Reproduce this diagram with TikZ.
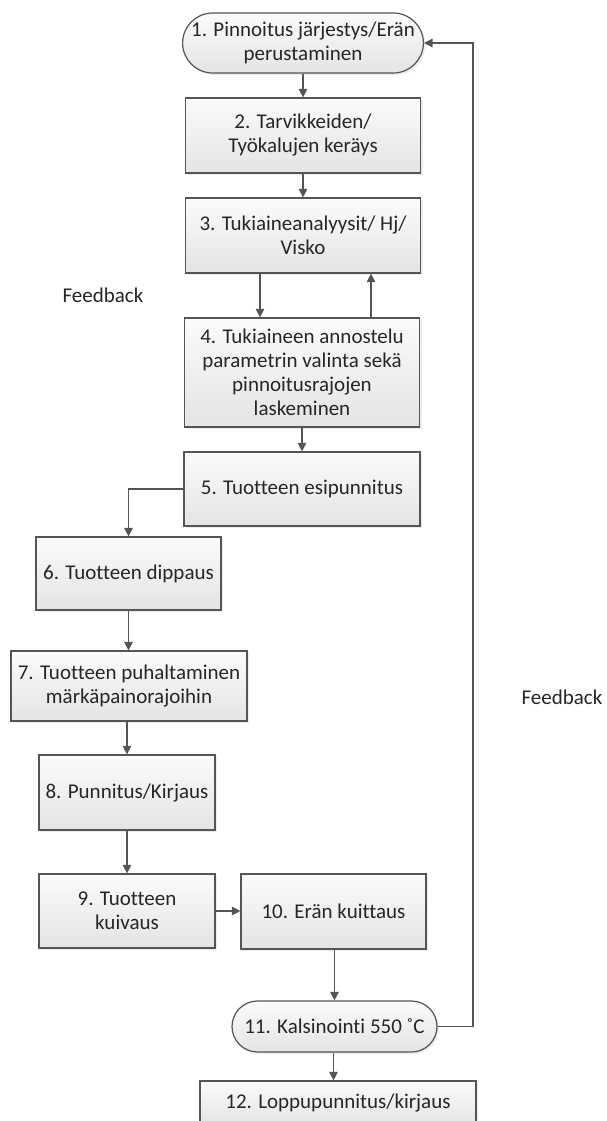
\documentclass[tikz,border=0pt]{standalone}
\usepackage{fontspec}
\setmainfont[Ligatures={NoCommon}]{Carlito}
\usetikzlibrary{arrows.meta,shapes.misc,shadows}
\definecolor{linec}{HTML}{555555}
\definecolor{textc}{HTML}{262626}
\definecolor{boxtop}{HTML}{FBFBFB}
\definecolor{boxbot}{HTML}{E4E4E4}
\begin{document}
\begin{tikzpicture}[x=1pt,y=-1pt,
  font=\fontsize{21}{24}\selectfont,
  box/.style={draw=linec, line width=1.2pt, top color=boxtop, bottom color=boxbot,
    drop shadow={shadow xshift=2pt,shadow yshift=-2pt,fill=black!14},
    align=center, inner sep=0pt, text=textc},
  term/.style={box, rounded rectangle},
  lbl/.style={text=textc, inner sep=0pt},
  arr/.style={draw=linec, line width=1.2pt, -{Triangle[length=8.5pt,width=8.5pt]}}]
\useasboundingbox (0,0) rectangle (606,1121);
\clip (0,0) rectangle (606,1121);
\fill[white] (0,0) rectangle (606,1121);

\node[term, minimum width=235pt, minimum height=60pt] (n1) at (303,43) {1. Pinnoitus järjestys/Erän\\perustaminen};
\node[box, minimum width=235pt, minimum height=75pt] (n2) at (303,135.5) {2. Tarvikkeiden/\\Työkalujen keräys};
\node[box, minimum width=235pt, minimum height=75pt] (n3) at (303,235.5) {3. Tukiaineanalyysit/ Hj/\\Visko};
\node[box, minimum width=235pt, minimum height=109pt] (n4) at (302,372.5) {4. Tukiaineen annostelu\\parametrin valinta sekä\\pinnoitusrajojen\\laskeminen};
\node[box, minimum width=236pt, minimum height=74pt] (n5) at (302,489) {5. Tuotteen esipunnitus};
\node[box, minimum width=185pt, minimum height=73pt] (n6) at (128.5,573.5) {6. Tuotteen dippaus};
\node[box, minimum width=236pt, minimum height=70pt] (n7) at (129,686) {7. Tuotteen puhaltaminen\\märkäpainorajoihin};
\node[box, minimum width=176pt, minimum height=75pt] (n8) at (127,792.5) {8. Punnitus/Kirjaus};
\node[box, minimum width=176pt, minimum height=74pt] (n9) at (127,911) {9. Tuotteen\\kuivaus};
\node[box, minimum width=185pt, minimum height=75pt] (n10) at (333.5,911.5) {10. Erän kuittaus};
\node[term, minimum width=205pt, minimum height=51pt] (n11) at (334.5,1026.5) {11. Kalsinointi 550 ˚C};
\node[box, minimum width=276pt, minimum height=44pt] (n12) at (338,1103) {12. Loppupunnitus/kirjaus};

\node[lbl] (fbl) at (103,295) {Feedback};
\node[lbl] (fbr) at (562,697) {Feedback};

\coordinate (dn) at (260,0);
\coordinate (up) at (371,0);
\coordinate (fb) at (473,0);

\draw[arr] (n1.south) -- (n2.north -| n1.south);
\draw[arr] (n2.south) -- (n3.north -| n2.south);
\draw[arr] (n3.south -| dn) -- (n4.north -| dn);
\draw[arr] (n4.north -| up) -- (n3.south -| up);
\draw[arr] (n4.south) -- (n5.north -| n4.south);
\draw[arr] (n5.west) -| (n6.north);
\draw[arr] (n6.south) -- (n7.north -| n6.south);
\draw[arr] (n7.south -| n8.south) -- (n8.north);
\draw[arr] (n8.south) -- (n9.north);
\draw[arr] (n9.east) -- (n10.west |- n9.east);
\draw[arr] (n10.south -| n11.south) -- (n11.north);
\draw[arr] (n11.south -| n10.south) -- (n12.north -| n10.south);
\draw[arr] (n11.east) -- (n11.east -| fb) -- (n1.east -| fb) -- (n1.east);
\end{tikzpicture}
\end{document}
